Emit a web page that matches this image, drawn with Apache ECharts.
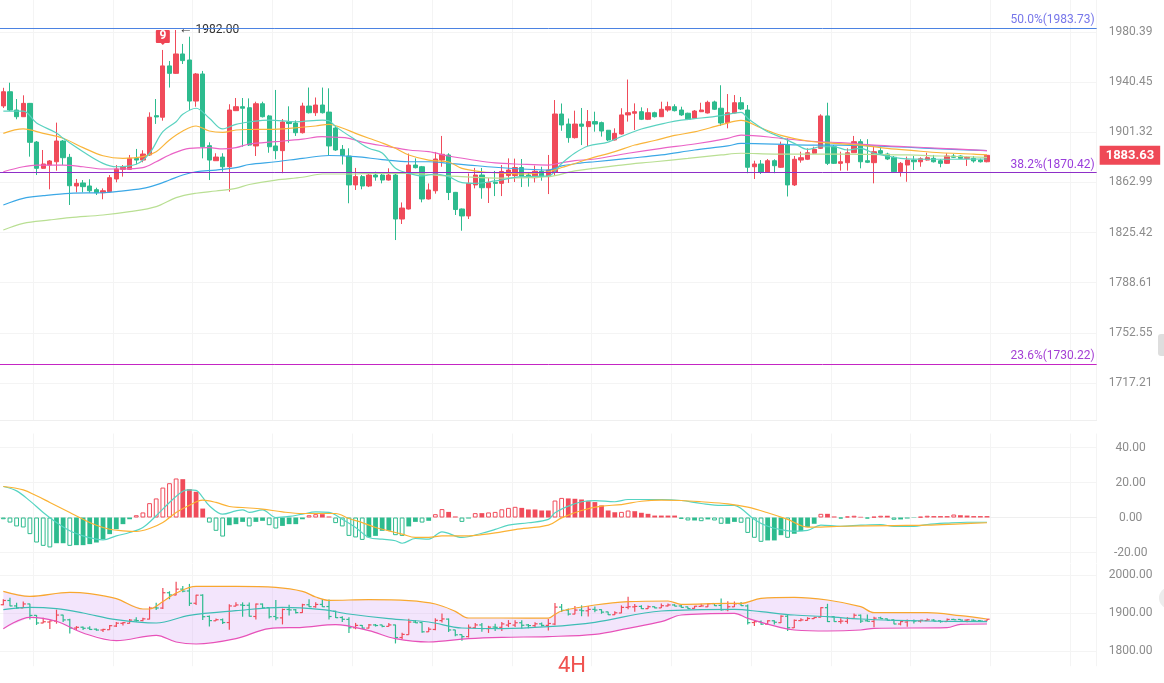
<!DOCTYPE html>
<html>
<head>
<meta charset="utf-8">
<title>4H</title>
<script src="https://cdn.jsdelivr.net/npm/echarts@6.0.0/dist/echarts.min.js"></script>
<style>
html, body { margin: 0; padding: 0; background: #fff; }
#chart { width: 1164px; height: 683px; }
</style>
</head>
<body>
<div id="chart"></div>
<script>
// ---- data ----
const barCount = 149;   // candles drawn
const padBars = 16;     // empty slots on the right
const categories = [];
for (let i = 0; i < barCount + padBars; i++) categories.push(String(i));

const opens = [
  1921.8,1932.9,1918.6,1913.4,1923.8,1893.8,1873.7,1876.2,1878.7,1894.6,
  1882.1,1860.3,1862.6,1860.3,1857.5,1855.2,1856.0,1865.6,1872.9,1872.9,
  1881.3,1880.0,1883.9,1914.2,1913.0,1953.3,1947.4,1962.8,1958.0,1925.6,
  1946.9,1891.0,1879.5,1882.3,1874.9,1918.1,1921.2,1920.4,1890.8,1923.5,
  1914.0,1890.8,1887.2,1909.3,1908.5,1901.0,1921.7,1916.5,1922.5,1917.0,
  1904.6,1888.2,1883.1,1861.1,1867.4,1860.3,1868.6,1868.6,1864.8,1868.6,
  1835.5,1843.0,1876.2,1874.9,1850.5,1856.7,1880.0,1883.9,1855.5,1843.0,
  1837.8,1861.1,1868.6,1859.0,1863.1,1862.3,1868.2,1868.2,1874.3,1868.6,
  1866.6,1871.5,1867.4,1870.9,1915.5,1907.7,1897.2,1907.7,1905.7,1909.6,
  1908.8,1902.9,1895.4,1900.0,1914.8,1916.1,1917.3,1911.4,1916.5,1913.4,
  1918.6,1921.2,1918.6,1916.1,1912.2,1917.3,1916.3,1924.9,1920.0,1908.8,
  1916.3,1924.3,1918.6,1874.9,1877.0,1870.7,1879.5,1874.5,1891.5,1861.1,
  1880.0,1880.6,1885.2,1889.0,1914.0,1890.2,1877.5,1878.0,1885.6,1894.1,
  1879.5,1878.0,1887.2,1884.6,1882.1,1871.1,1876.2,1880.0,1878.7,1880.0,
  1881.3,1879.5,1877.5,1883.1,1883.1,1881.3,1881.3,1880.0,1878.7
];
const closes = [
  1932.9,1918.6,1913.4,1923.8,1893.6,1873.7,1877.0,1879.3,1894.6,1881.8,
  1860.5,1862.3,1859.8,1856.7,1855.2,1856.7,1866.6,1873.2,1874.5,1881.3,
  1880.0,1884.6,1913.0,1913.2,1953.3,1947.4,1962.8,1957.5,1925.6,1946.9,
  1890.2,1880.0,1882.3,1874.9,1918.6,1921.2,1920.0,1891.5,1923.5,1913.4,
  1890.2,1887.2,1909.3,1908.1,1901.0,1921.7,1916.5,1922.5,1916.5,1890.8,
  1887.7,1883.5,1861.1,1867.4,1860.3,1868.6,1867.1,1864.8,1868.6,1835.5,
  1843.7,1876.2,1874.2,1850.5,1857.3,1880.8,1884.4,1855.4,1842.6,1837.8,
  1862.3,1868.6,1859.0,1862.8,1862.3,1871.3,1872.4,1874.3,1867.7,1866.9,
  1871.5,1867.4,1872.4,1915.5,1907.0,1897.2,1907.7,1906.0,1909.6,1907.7,
  1902.3,1895.4,1900.5,1914.8,1916.5,1917.3,1911.4,1916.5,1913.4,1919.2,
  1921.2,1918.1,1914.8,1911.4,1917.8,1918.6,1924.6,1919.2,1908.5,1916.5,
  1924.3,1919.4,1874.5,1877.0,1870.7,1879.5,1875.7,1891.5,1861.1,1880.6,
  1881.8,1885.6,1888.2,1914.0,1877.5,1877.5,1878.7,1885.6,1894.1,1878.7,
  1878.3,1886.4,1885.2,1880.8,1871.1,1877.5,1880.0,1878.7,1881.0,1881.8,
  1878.7,1877.5,1883.1,1882.1,1881.3,1882.1,1879.3,1878.7,1883.63
];
const lows = [
  1920.2,1917.8,1911.4,1913.2,1882.6,1868.6,1873.2,1857.8,1871.9,1876.2,
  1846.0,1855.5,1855.5,1855.2,1853.5,1850.3,1855.8,1863.1,1867.4,1872.4,
  1876.7,1878.3,1883.1,1907.8,1910.3,1936.2,1946.9,1954.8,1918.6,1921.2,
  1881.3,1864.8,1879.3,1871.1,1856.0,1917.8,1890.2,1890.8,1883.1,1912.8,
  1885.6,1880.6,1870.0,1893.3,1898.5,1900.4,1915.9,1914.0,1915.9,1883.1,
  1887.0,1876.6,1847.3,1857.3,1857.8,1859.5,1864.3,1862.3,1864.4,1819.9,
  1831.8,1842.6,1873.6,1848.0,1850.1,1854.5,1874.9,1849.7,1838.5,1826.8,
  1835.5,1858.5,1850.7,1847.5,1852.7,1852.7,1862.6,1863.3,1859.5,1859.8,
  1863.0,1864.3,1854.2,1867.9,1902.5,1893.3,1896.5,1891.5,1890.8,1901.8,
  1898.0,1894.6,1895.0,1899.6,1909.6,1903.1,1910.8,1910.8,1912.8,1913.2,
  1917.3,1917.5,1914.0,1910.8,1911.6,1917.0,1915.9,1918.6,1906.2,1904.4,
  1915.9,1918.6,1870.0,1865.6,1869.4,1870.2,1870.0,1874.0,1852.4,1860.3,
  1878.0,1880.0,1884.6,1888.5,1876.2,1877.0,1871.9,1871.9,1885.4,1873.7,
  1877.7,1862.3,1884.6,1880.0,1870.5,1867.4,1863.5,1872.4,1874.9,1879.6,
  1878.1,1874.5,1877.0,1881.6,1881.0,1875.5,1878.0,1878.1,1878.3
];
const highs = [
  1936.0,1940.0,1927.2,1930.1,1924.1,1894.6,1887.7,1880.0,1908.8,1895.4,
  1884.7,1865.6,1864.8,1865.4,1859.0,1858.5,1868.6,1876.2,1876.2,1883.9,
  1888.5,1887.5,1916.8,1927.2,1966.0,1957.2,1982.0,1970.8,1976.6,1947.7,
  1949.3,1893.6,1885.2,1885.2,1923.1,1928.0,1928.0,1927.7,1925.1,1925.1,
  1914.8,1934.3,1911.6,1921.5,1910.5,1924.3,1936.2,1928.4,1936.2,1935.6,
  1906.2,1891.5,1889.0,1874.0,1868.6,1870.9,1871.1,1869.4,1873.7,1869.4,
  1847.9,1885.0,1881.3,1875.5,1862.2,1886.2,1898.5,1885.2,1855.8,1843.4,
  1869.8,1874.0,1874.0,1866.3,1871.7,1876.2,1881.3,1881.1,1880.8,1870.9,
  1875.8,1874.9,1883.9,1926.4,1923.7,1912.0,1918.1,1920.2,1918.6,1917.3,
  1909.6,1903.1,1904.4,1920.0,1942.5,1923.8,1920.7,1920.0,1917.3,1925.1,
  1925.1,1923.1,1921.2,1916.5,1918.6,1924.3,1925.9,1925.9,1938.0,1931.1,
  1930.3,1928.8,1922.5,1879.5,1880.0,1880.8,1880.6,1894.1,1896.7,1883.1,
  1886.4,1889.0,1890.2,1915.3,1924.3,1891.5,1886.4,1889.0,1898.5,1896.0,
  1896.0,1890.2,1890.2,1885.6,1883.1,1878.5,1882.6,1883.1,1882.1,1885.6,
  1883.9,1880.8,1885.2,1884.6,1883.6,1882.7,1883.1,1881.1,1883.9
];

// moving averages, [bar index, price] read at sample points
const ma5 = [[0,1917.8],[3,1917.8],[5,1908.5],[8,1900.8],[9,1896.7],[12,1886.4],[15,1877.5],[17,1874.9],[20,1876.8],[22,1885.2],[24,1901.8],[26,1909.5],[27,1915.3],[29,1920.0],[31,1912.2],[33,1903.9],[35,1907.5],[37,1909.3],[40,1910.8],[44,1909.5],[48,1910.8],[49,1910.3],[50,1905.7],[53,1895.4],[55,1889.0],[57,1885.4],[59,1873.7],[61,1869.9],[63,1867.9],[65,1869.4],[67,1867.4],[69,1862.8],[71,1862.3],[74,1864.1],[78,1867.4],[82,1867.9],[84,1877.4],[86,1885.4],[88,1890.8],[91,1893.8],[93,1898.1],[96,1903.9],[100,1908.9],[102,1910.8],[105,1912.4],[108,1914.3],[111,1916.7],[112,1912.2],[113,1908.3],[115,1901.8],[117,1897.5],[119,1892.8],[121,1888.2],[123,1890.2],[125,1890.2],[127,1887.7],[129,1889.0],[131,1885.2],[133,1883.1],[135,1881.3],[139,1880.6],[143,1880.6],[148,1880.8]];
const ma10 = [[0,1900.5],[3,1903.9],[6,1900.5],[9,1896.7],[12,1889.5],[15,1883.3],[18,1881.3],[21,1882.6],[23,1886.4],[25,1895.4],[27,1902.3],[29,1906.2],[31,1902.3],[33,1901.3],[35,1903.1],[37,1903.5],[40,1903.6],[43,1904.4],[47,1906.2],[49,1907.5],[51,1904.6],[53,1900.5],[55,1896.7],[57,1893.1],[59,1889.0],[61,1883.9],[64,1880.0],[67,1878.5],[69,1873.7],[72,1871.1],[74,1870.4],[78,1869.4],[82,1871.1],[84,1874.3],[86,1877.4],[88,1880.8],[92,1886.5],[95,1891.5],[98,1895.0],[101,1898.9],[104,1901.6],[108,1907.0],[111,1910.5],[114,1904.6],[117,1898.9],[121,1894.6],[125,1892.8],[129,1891.5],[133,1889.0],[137,1887.2],[141,1885.6],[146,1884.6],[148,1883.9]];
const ma20 = [[0,1871.1],[3,1874.9],[5,1876.2],[9,1876.2],[12,1874.9],[15,1873.2],[18,1873.2],[21,1874.2],[23,1878.7],[25,1883.9],[28,1889.0],[31,1889.5],[33,1888.5],[35,1889.5],[37,1892.3],[41,1894.1],[45,1896.0],[48,1898.0],[50,1897.5],[52,1896.7],[54,1893.8],[58,1890.2],[61,1887.7],[64,1886.4],[67,1883.1],[70,1880.6],[74,1877.8],[78,1876.8],[82,1876.2],[84,1878.0],[86,1879.5],[89,1880.8],[94,1885.2],[99,1889.0],[104,1892.3],[109,1896.7],[111,1899.2],[117,1896.7],[121,1894.6],[126,1893.3],[131,1891.5],[136,1890.2],[141,1889.0],[148,1887.2]];
const ma30 = [[0,1846.0],[3,1851.0],[6,1853.0],[10,1854.8],[15,1855.2],[17,1856.0],[21,1858.5],[23,1861.1],[25,1864.8],[27,1868.6],[29,1871.1],[32,1872.4],[35,1874.2],[37,1876.6],[41,1878.7],[45,1881.3],[49,1883.5],[53,1882.6],[57,1880.4],[61,1878.7],[64,1878.7],[67,1877.5],[70,1876.2],[74,1874.5],[78,1873.2],[82,1872.4],[84,1875.5],[87,1877.8],[89,1878.7],[94,1881.3],[99,1883.9],[104,1887.7],[109,1890.8],[111,1892.8],[121,1891.5],[126,1891.5],[131,1890.8],[136,1889.8],[141,1888.5],[148,1887.2]];
const ma60 = [[0,1827.3],[3,1832.3],[7,1834.8],[10,1836.5],[15,1838.5],[19,1841.0],[23,1844.8],[26,1851.5],[29,1854.8],[32,1856.5],[35,1858.5],[37,1861.4],[41,1864.8],[45,1866.9],[48,1869.4],[52,1869.4],[56,1869.9],[61,1869.8],[67,1867.9],[74,1866.3],[82,1867.4],[86,1871.7],[93,1876.2],[98,1878.7],[103,1881.3],[108,1883.9],[111,1885.2],[116,1884.6],[126,1884.6],[136,1883.9],[141,1883.1],[148,1882.1]];

// MACD panel
const macdHist = [
  -1.0,-2.9,-5.1,-5.7,-9.5,-14.3,-16.2,-17.1,-14.7,-14.7,
  -16.2,-15.8,-15.8,-15.2,-14.3,-12.4,-9.5,-6.7,-3.8,-1.0,
  1.3,2.9,8.2,10.9,17.1,19.6,22.3,21.9,16.2,14.7,
  5.1,-2.9,-7.6,-10.9,-4.4,-3.8,-2.5,-5.1,-2.5,-1.9,
  -4.4,-6.3,-4.8,-3.8,-3.8,-1.0,1.3,1.9,1.9,0.6,
  -3.2,-5.1,-10.5,-11.4,-12.8,-11.4,-10.5,-7.6,-7.6,-10.1,
  -10.5,-5.1,-2.5,-2.9,-1.9,1.9,4.8,3.2,0.6,-2.5,
  -0.6,2.5,2.5,2.9,3.2,4.7,5.5,6.1,5.5,4.6,
  4.6,4.0,4.0,9.7,11.2,10.9,10.7,10.3,9.3,8.8,
  6.9,4.0,3.0,3.2,4.0,3.6,2.7,2.1,1.1,1.1,
  1.1,1.1,-0.8,-1.7,-1.7,-2.1,-1.1,-1.7,-3.6,-3.6,
  -2.5,-3.0,-8.8,-11.6,-13.9,-13.1,-13.1,-10.1,-11.6,-9.3,
  -7.8,-5.5,-3.6,2.1,2.1,0.6,-0.6,0.6,1.0,0.4,
  -0.6,0.4,1.0,1.0,-1.3,-1.1,-0.6,-0.2,0.4,1.0,
  0.8,0.8,0.8,1.7,1.3,1.1,0.8,0.8,0.8
];
const macdDif = [[0,17.7],[2,15.2],[4,9.5],[6,2.9],[8,-2.9],[10,-7.6],[12,-10.5],[14,-12.4],[15,-12.8],[17,-10.5],[19,-8.6],[21,-5.7],[23,1.0],[25,8.6],[27,15.0],[28,15.8],[29,15.5],[30,11.5],[31,6.7],[33,1.9],[35,3.8],[36,4.4],[37,2.9],[39,4.4],[41,0.0],[43,0.6],[45,1.9],[47,3.2],[49,2.9],[51,-1.0],[53,-5.7],[55,-11.4],[57,-12.4],[59,-13.3],[60,-14.7],[62,-12.0],[64,-12.4],[66,-8.2],[69,-11.4],[72,-9.0],[74,-6.8],[76,-4.4],[79,-3.0],[82,-1.1],[83,2.7],[85,6.5],[87,9.0],[89,9.7],[92,9.0],[94,10.3],[99,10.3],[102,9.7],[105,8.0],[108,6.9],[110,6.9],[111,5.1],[113,-1.1],[115,-5.0],[117,-6.9],[119,-7.8],[121,-7.4],[123,-4.4],[126,-5.0],[129,-4.4],[132,-4.0],[134,-5.1],[137,-5.1],[139,-4.0],[142,-3.2],[145,-2.7],[148,-2.7]];
const macdDea = [[0,17.7],[3,15.8],[5,12.4],[7,8.6],[10,2.9],[12,-1.0],[14,-4.4],[16,-6.7],[18,-7.6],[20,-8.0],[22,-6.3],[24,-2.9],[26,2.9],[28,7.0],[30,9.9],[32,8.6],[34,6.3],[36,5.7],[39,4.8],[42,3.2],[45,2.3],[48,2.3],[50,2.3],[52,-0.6],[54,-2.9],[56,-5.7],[58,-7.6],[60,-9.5],[62,-11.4],[64,-11.4],[66,-10.5],[70,-10.5],[72,-9.8],[74,-8.8],[77,-6.9],[82,-4.4],[84,-0.2],[87,4.0],[90,6.5],[93,7.4],[96,9.3],[99,9.9],[102,9.7],[105,9.0],[109,7.8],[112,5.9],[115,2.7],[118,-1.1],[121,-5.5],[123,-5.5],[126,-5.0],[134,-4.6],[139,-4.4],[144,-3.6],[148,-3.0]];

// Bollinger panel
const bollUpper = [[0,1957.1],[4,1943.9],[10,1954.4],[13,1950.9],[17,1937.7],[21,1910.5],[22,1910.5],[24,1930.0],[26,1952.6],[29,1970.2],[35,1970.2],[41,1967.5],[45,1957.1],[47,1942.1],[49,1933.3],[55,1935.1],[61,1932.5],[65,1923.7],[68,1904.4],[70,1886.8],[75,1886.8],[82,1886.5],[83,1896.5],[84,1905.3],[89,1921.0],[94,1929.8],[100,1931.6],[102,1922.8],[109,1925.4],[111,1925.4],[114,1938.6],[119,1941.3],[124,1934.2],[129,1916.6],[131,1900.8],[139,1900.8],[144,1892.9],[148,1884.2]];
const bollMid = [[0,1908.8],[4,1915.0],[8,1911.4],[12,1900.0],[17,1882.5],[23,1873.7],[28,1893.9],[35,1906.1],[42,1915.0],[48,1908.8],[52,1897.4],[58,1885.1],[64,1876.3],[69,1860.5],[75,1858.8],[82,1863.9],[89,1875.5],[99,1905.3],[110,1909.7],[114,1903.4],[119,1894.7],[124,1890.3],[129,1884.2],[134,1880.8],[139,1878.9],[148,1877.1]];
const bollLower = [[0,1858.8],[4,1888.7],[8,1878.2],[12,1847.4],[17,1827.2],[23,1841.2],[26,1823.7],[29,1818.4],[35,1832.5],[40,1858.8],[45,1862.3],[50,1869.3],[55,1853.5],[59,1832.5],[64,1823.7],[70,1832.5],[75,1836.0],[82,1838.0],[89,1843.9],[94,1859.7],[99,1877.1],[102,1894.7],[110,1899.2],[112,1886.0],[117,1861.4],[119,1855.3],[124,1852.6],[129,1855.3],[131,1859.7],[142,1861.3],[144,1870.3],[148,1871.1]];

// axis tick labels
const priceTicks = [1980.39, 1940.45, 1901.32, 1862.99, 1825.42, 1788.61, 1752.55, 1717.21];
const macdTicks = [-20, 0, 20, 40];
const bollTicks = [1800, 1900, 2000];

// fibonacci levels
const fibNames = ['50.0%', '38.2%', '23.6%'];
const fibValues = [1983.73, 1870.42, 1730.22];
const fibLineColors = ['#4b82e2', '#8e2fc8', '#c425c4'];
const fibTextColors = ['#7676ea', '#9a3ddb', '#a43fd4'];

// sequence count marker
const seqIndex = 24;
const seqText = '9';

// ---- chart ----
const upColor = '#f04b5a';
const downColor = '#2dbb8e';
const gridLeft = -3.333;
const gridWidth = 1100;
const font = 'Roboto, Arial, sans-serif';

const candleData = opens.map((o, i) => [o, closes[i], lows[i], highs[i]]);
const ohlcData = opens.map((o, i) => [i, o, closes[i], lows[i], highs[i]]);
const lastClose = closes[closes.length - 1];

const macdBars = macdHist.map((v, i) => {
  const prev = i > 0 ? macdHist[i - 1] : 0;
  const c = v >= 0 ? upColor : downColor;
  const growing = v >= 0 ? v > prev : v < prev;
  return growing
    ? { value: v, itemStyle: { color: '#fff', borderColor: c, borderWidth: 1 } }
    : { value: v, itemStyle: { color: c } };
});

function xAxisFor(idx, showLine) {
  return {
    type: 'category',
    gridIndex: idx,
    data: categories,
    boundaryGap: true,
    axisLabel: { show: false },
    axisTick: { show: false },
    axisLine: { show: showLine, lineStyle: { color: '#efefef' } },
    splitLine: {
      show: true,
      interval: (i) => i % 12 === 5,
      lineStyle: { color: '#f4f4f4' }
    }
  };
}

function yAxisFor(idx, extra, ticks, digits) {
  return Object.assign({
    gridIndex: idx,
    position: 'right',
    scale: true,
    axisLine: { show: false },
    axisTick: { show: false, customValues: ticks },
    axisLabel: {
      customValues: ticks,
      align: 'center',
      margin: 34,
      color: '#8c8c8c',
      fontSize: 12,
      fontFamily: font,
      formatter: (v) => Number(v).toFixed(digits)
    },
    splitLine: { show: true, lineStyle: { color: '#f4f4f4' } }
  }, extra);
}

function lineSeries(data, color, xi, yi, width) {
  return {
    type: 'line',
    data: data,
    xAxisIndex: xi,
    yAxisIndex: yi,
    smooth: 0.35,
    showSymbol: false,
    silent: true,
    z: 5,
    lineStyle: { color: color, width: width || 1.2 }
  };
}

const chart = echarts.init(document.getElementById('chart'));
chart.setOption({
  animation: false,
  textStyle: { fontFamily: font },
  grid: [
    { left: gridLeft, width: gridWidth, top: 0, height: 420 },
    { left: gridLeft, width: gridWidth, top: 433.5, height: 129.5 },
    { left: gridLeft, width: gridWidth, top: 563.6, height: 102.6 }
  ],
  xAxis: [xAxisFor(0, true), xAxisFor(1, true), xAxisFor(2, false)],
  yAxis: [
    yAxisFor(0, { type: 'log', min: 1691.6, max: 2006.3 }, priceTicks, 2),
    yAxisFor(1, { type: 'value', min: -26, max: 48 }, macdTicks, 2),
    yAxisFor(2, { type: 'value', min: 1760, max: 2030 }, bollTicks, 2)
  ],
  graphic: [
    {
      type: 'text', left: 558, top: 655, z: 100,
      style: { text: '4H', fill: '#f0524f', fontSize: 22, fontFamily: font }
    },
    {
      type: 'rect', shape: { x: 1158, y: 334, width: 10, height: 22, r: 3 },
      style: { fill: '#dedede' }
    },
    {
      type: 'circle', shape: { cx: 1170, cy: 598, r: 11 },
      style: { fill: '#ececec' }
    }
  ],
  series: [
    {
      type: 'candlestick',
      data: candleData,
      xAxisIndex: 0,
      yAxisIndex: 0,
      barWidth: 4.8,
      z: 3,
      itemStyle: {
        color: upColor, color0: downColor,
        borderColor: upColor, borderColor0: downColor,
        borderWidth: 1
      },
      markLine: {
        silent: true,
        symbol: ['none', 'none'],
        z: 6,
        data: fibValues.map((v, i) => ({
          yAxis: v,
          lineStyle: { color: fibLineColors[i], width: 1, type: 'solid' },
          label: {
            show: true,
            position: 'insideEndTop',
            distance: 2,
            formatter: fibNames[i] + '(' + v.toFixed(2) + ')',
            color: fibTextColors[i],
            fontSize: 12,
            fontFamily: font
          }
        }))
      },
      markPoint: {
        silent: true,
        data: [
          {
            type: 'max',
            valueDim: 'highest',
            symbol: 'circle',
            symbolSize: 1,
            itemStyle: { color: 'rgba(0,0,0,0)' },
            label: {
              show: true,
              position: 'right',
              distance: 2,
              formatter: (p) => '{a|\u2190} ' + Number(p.value).toFixed(2),
              rich: { a: { fontSize: 14, color: '#333' } },
              color: '#333',
              fontSize: 12,
              fontFamily: font
            }
          },
          {
            coord: [seqIndex, highs[seqIndex]],
            symbol: 'path://M0,1 Q0,0 1,0 H13 Q14,0 14,1 V12 Q14,13 13,13 H9 L7,15 L5,13 H1 Q0,13 0,12 Z',
            symbolSize: [14, 15],
            symbolOffset: [0, -12.5],
            itemStyle: { color: '#ef4454' },
            label: {
              show: true,
              position: 'inside',
              offset: [0, -1],
              formatter: seqText,
              color: '#fff',
              fontWeight: 'bold',
              fontSize: 12,
              fontFamily: font
            }
          }
        ]
      }
    },
    // last price tag on the right axis
    {
      type: 'line',
      xAxisIndex: 0,
      yAxisIndex: 0,
      data: [],
      silent: true,
      markLine: {
        silent: true,
        symbol: ['none', 'none'],
        data: [{
          yAxis: lastClose,
          lineStyle: { color: 'rgba(0,0,0,0)', width: 1 },
          label: {
            show: true,
            position: 'end',
            distance: 3,
            formatter: lastClose.toFixed(2),
            color: '#fff',
            backgroundColor: '#ef4956',
            padding: [3, 6, 3, 6],
            fontWeight: 'bold',
            fontSize: 13,
            fontFamily: font
          }
        }]
      }
    },
    lineSeries(ma60, '#b9df93', 0, 0),
    lineSeries(ma30, '#3ba8e6', 0, 0),
    lineSeries(ma20, '#ea63c6', 0, 0),
    lineSeries(ma10, '#f9b53b', 0, 0),
    lineSeries(ma5, '#5ad2c0', 0, 0),

    {
      type: 'bar',
      data: macdBars,
      xAxisIndex: 1,
      yAxisIndex: 1,
      barWidth: 4.8,
      silent: true,
      z: 2
    },
    lineSeries(macdDif, '#55d4c2', 1, 1),
    lineSeries(macdDea, '#fbb234', 1, 1),

    {
      type: 'custom',
      xAxisIndex: 2,
      yAxisIndex: 2,
      silent: true,
      z: 1,
      data: [[0, 1900]],
      renderItem: (params, api) => {
        const pts = bollUpper.map((p) => api.coord(p))
          .concat(bollLower.slice().reverse().map((p) => api.coord(p)));
        return { type: 'polygon', shape: { points: pts }, style: { fill: 'rgba(214,170,246,0.3)' } };
      }
    },
    lineSeries(bollUpper, '#f8a730', 2, 2),
    lineSeries(bollMid, '#3ebdb5', 2, 2),
    lineSeries(bollLower, '#e752b9', 2, 2),
    {
      type: 'custom',
      xAxisIndex: 2,
      yAxisIndex: 2,
      silent: true,
      z: 4,
      data: ohlcData,
      encode: { x: 0, y: [1, 2, 3, 4] },
      renderItem: (params, api) => {
        const k = api.value(0);
        const o = api.coord([k, api.value(1)]);
        const c = api.coord([k, api.value(2)]);
        const l = api.coord([k, api.value(3)]);
        const h = api.coord([k, api.value(4)]);
        const col = api.value(2) >= api.value(1) ? upColor : downColor;
        const st = { stroke: col, lineWidth: 1.2 };
        return {
          type: 'group',
          children: [
            { type: 'line', shape: { x1: h[0], y1: h[1], x2: l[0], y2: l[1] }, style: st },
            { type: 'line', shape: { x1: o[0] - 2.6, y1: o[1], x2: o[0], y2: o[1] }, style: st },
            { type: 'line', shape: { x1: c[0], y1: c[1], x2: c[0] + 2.6, y2: c[1] }, style: st }
          ]
        };
      }
    }
  ]
});
window.onresize = chart.resize;
</script>
</body>
</html>
